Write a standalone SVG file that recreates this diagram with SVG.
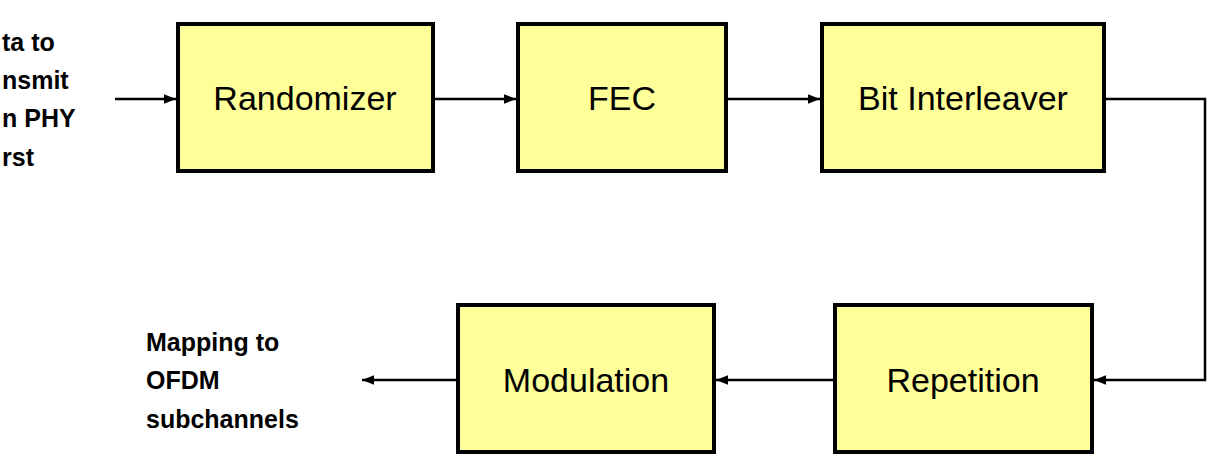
<svg xmlns="http://www.w3.org/2000/svg" width="1215" height="466" viewBox="0 0 1215 466">
<style>
.b{fill:#FFFF99;stroke:#000;stroke-width:4}
.t{font-family:"Liberation Sans",Arial,sans-serif;font-size:34px;text-anchor:middle;fill:#000}
.s{font-family:"Liberation Sans",Arial,sans-serif;font-size:25px;font-weight:bold;fill:#000}
.c{fill:none;stroke:#000;stroke-width:2.5}
</style>
<defs><marker id="a" viewBox="0 0 10 10" refX="10" refY="5" markerWidth="5" markerHeight="5" orient="auto" markerUnits="userSpaceOnUse"><path d="M0,0L10,5L0,10z" fill="#000"/></marker>
<marker id="m" viewBox="0 0 10 10" refX="10" refY="5" markerWidth="12" markerHeight="12" orient="auto" markerUnits="userSpaceOnUse"><path d="M0,1L10,5L0,9z" fill="#000"/></marker></defs>
<g id="input-label"><text class="s" x="2" y="51">ta to</text><text class="s" x="2" y="89">nsmit</text><text class="s" x="2" y="127">n PHY</text><text class="s" x="2" y="166">rst</text></g>
<g id="output-label"><text class="s" x="146" y="351">Mapping to</text><text class="s" x="146" y="389">OFDM</text><text class="s" x="146" y="428">subchannels</text></g>
<g id="randomizer"><rect class="b" x="178" y="24" width="255" height="147"/><text class="t" x="305" y="110">Randomizer</text></g>
<g id="fec"><rect class="b" x="518" y="24" width="208" height="147"/><text class="t" x="622" y="110">FEC</text></g>
<g id="bit-interleaver"><rect class="b" x="822" y="24" width="282" height="147"/><text class="t" x="963" y="110">Bit Interleaver</text></g>
<g id="repetition"><rect class="b" x="835" y="305" width="257" height="147"/><text class="t" x="963" y="392">Repetition</text></g>
<g id="modulation"><rect class="b" x="458" y="305" width="256" height="147"/><text class="t" x="586" y="392">Modulation</text></g>
<g id="connectors">
<path class="c" d="M115,99H176" marker-end="url(#m)"/>
<path class="c" d="M435,99H516" marker-end="url(#m)"/>
<path class="c" d="M728,99H820" marker-end="url(#m)"/>
<path class="c" d="M1106,99H1205V380H1094" marker-end="url(#m)"/>
<path class="c" d="M833,380H716" marker-end="url(#m)"/>
<path class="c" d="M456,380H362" marker-end="url(#m)"/>
</g>
</svg>
